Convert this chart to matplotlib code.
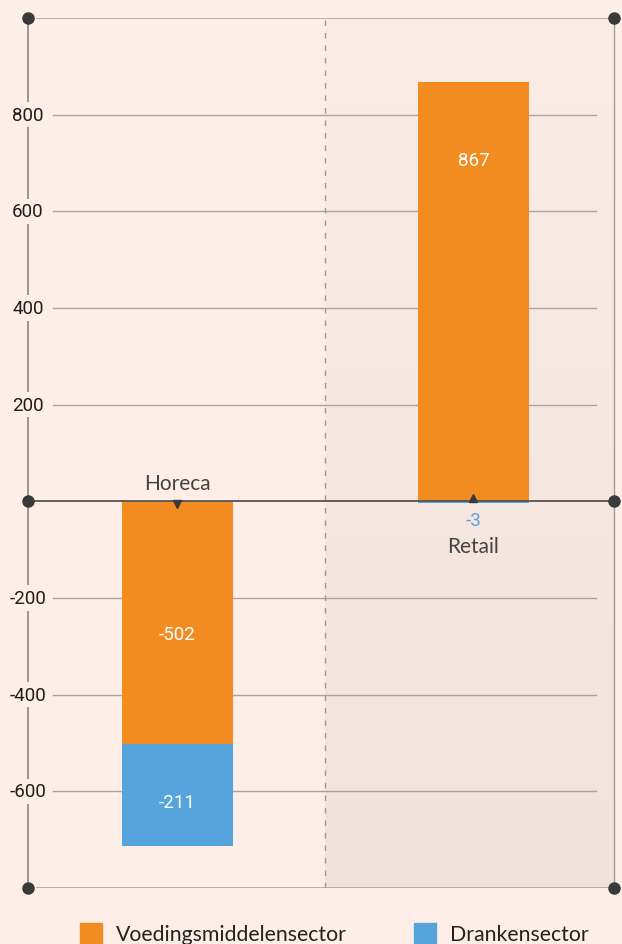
import numpy as np
import matplotlib.pyplot as plt
from matplotlib.patches import Rectangle
from matplotlib.colors import LinearSegmentedColormap

# data
categories = ['Horeca', 'Retail']
voeding = [-502, 867]
dranken = [-211, -3]
series_names = ['Voedingsmiddelensector', 'Drankensector']
yticks = [800, 600, 400, 200, -200, -400, -600]

BG = '#fdeee7'
ORANGE = '#f28c20'
BLUE = '#55a5dc'
DARK = '#3a3a3a'
GRID = '#a9a4a1'

fig = plt.figure(figsize=(6.22, 9.45), dpi=100, facecolor=BG)
ax = fig.add_axes([28 / 622, 1 - 889 / 945, 586 / 622, 870 / 945])
ax.set_facecolor(BG)
xmin, xmax = -0.505, 1.475
ymin, ymax = -800, 1000
for s in ax.spines.values():
    s.set_visible(False)
ax.set_xticks([])
ax.set_yticks([])

# shaded right half with a soft vertical gradient
grad = np.linspace(0, 1, 256).reshape(-1, 1)
cmap = LinearSegmentedColormap.from_list('sh', ['#f2e2dc', '#fcece6'])
ax.imshow(grad, extent=[0.5, xmax, ymin, ymax], origin='lower', aspect='auto',
          cmap=cmap, zorder=0)
ax.set_xlim(xmin, xmax)
ax.set_ylim(ymin, ymax)

# gridlines
for t in yticks:
    ax.plot([xmin + 0.085, xmax - 0.06], [t, t], color=GRID, lw=1, zorder=1)
ax.plot([xmin + 0.03, xmax], [ymax, ymax], color=GRID, lw=1.2, zorder=1)
ax.plot([xmin + 0.03, xmax], [ymin, ymin], color=GRID, lw=1.2, zorder=1)
ax.axvline(0.5, color='#9e9a98', lw=1, ls=(0, (4, 5)), zorder=1)

# side axis lines
ax.plot([xmin, xmin], [ymin, ymax], color='#8a8785', lw=1.2, zorder=1, clip_on=False)
ax.plot([xmax, xmax], [ymin, ymax], color='#a09c9a', lw=1.0, zorder=1, clip_on=False)

# bars
x = np.arange(len(categories))
w = 0.375
ax.bar(x, voeding, width=w, color=ORANGE, zorder=3)
bottoms = [v if v < 0 and d < 0 else 0 for v, d in zip(voeding, dranken)]
ax.bar(x, dranken, width=w, bottom=bottoms, color=BLUE, zorder=3)

# zero line
ax.plot([xmin, xmax], [0, 0], color='#555555', lw=1.3, zorder=4, clip_on=False)

# corner dots
for yy in (ymax, 0, ymin):
    ax.plot([xmin, xmax], [yy, yy], 'o', color=DARK, ms=8, zorder=6, clip_on=False)

# tick labels over the axis line
for t in yticks:
    ax.text(xmin, t, f'{t}', ha='center', va='center', fontsize=13.5,
            family='Roboto', color='#1e1e1e', zorder=5,
            bbox=dict(boxstyle='square,pad=0.2', fc=BG, ec='none'))

# value labels and category labels
for i, (v, d) in enumerate(zip(voeding, dranken)):
    if v > 0:
        ax.plot(i, 6, '^', color=DARK, ms=6, zorder=5)
        ax.text(i, v - 160, f'{v}', ha='center', va='center', color='white',
                fontsize=13.5, family='Roboto', zorder=5)
        ax.text(i, -38, f'{d}', ha='center', va='center', color=BLUE,
                fontsize=13.5, family='Roboto', zorder=5)
        ax.text(i, -92, categories[i], ha='center', va='center', color='#444444',
                fontsize=15, family='Lato', zorder=5)
    else:
        ax.plot(i, -6, 'v', color=DARK, ms=6, zorder=5)
        ax.text(i, v / 2 - 24, f'{v}', ha='center', va='center', color='white',
                fontsize=13.5, family='Roboto', zorder=5)
        ax.text(i, v + d / 2 - 14, f'{d}', ha='center', va='center', color='white',
                fontsize=13.5, family='Roboto', zorder=5)
        ax.text(i, 37, categories[i], ha='center', va='center', color='#444444',
                fontsize=15, family='Lato', zorder=5)

# legend
for px, c, name in [(80, ORANGE, series_names[0]), (414, BLUE, series_names[1])]:
    fig.patches.append(Rectangle((px / 622, 1 - 946 / 945), 22 / 622, 22 / 945,
                                 transform=fig.transFigure, color=c))
    fig.text((px + 36) / 622, 1 - 935 / 945, name, ha='left', va='center',
             fontsize=15.3, family='Lato', color='#222222')

fig.savefig('out.png', dpi=100, facecolor=BG)
